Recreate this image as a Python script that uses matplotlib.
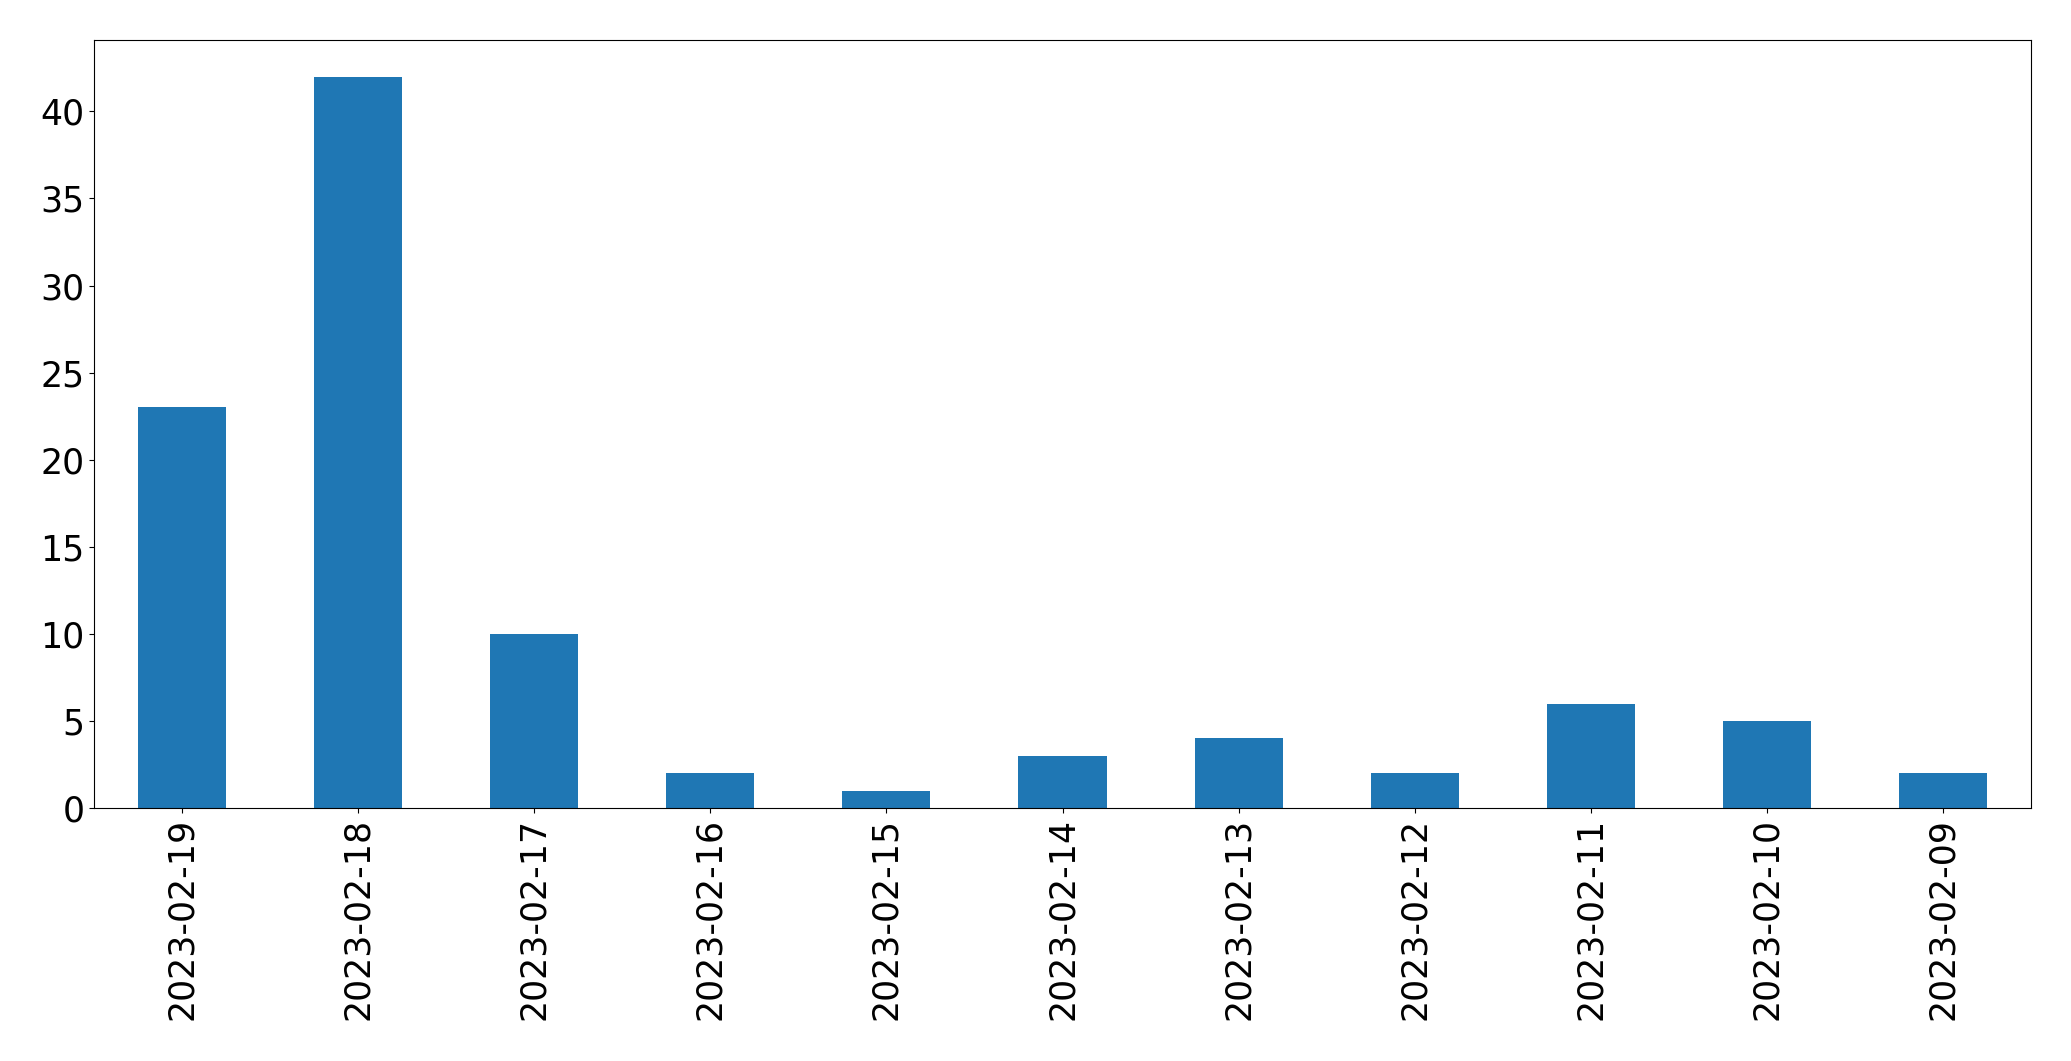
import matplotlib
matplotlib.use("Agg")
import matplotlib.pyplot as plt
import numpy as np

dates = ["2023-02-19", "2023-02-18", "2023-02-17", "2023-02-16", "2023-02-15",
         "2023-02-14", "2023-02-13", "2023-02-12", "2023-02-11", "2023-02-10",
         "2023-02-09"]
counts = [23, 42, 10, 2, 1, 3, 4, 2, 6, 5, 2]

fig = plt.figure(figsize=(20.71, 10.61), dpi=100)
ax = fig.add_axes([94/2071, 1 - 808/1061, (2031-94)/2071, (808-40)/1061])

x = np.arange(len(dates))
ax.bar(x, counts, width=0.5, color="#1f77b4")
ax.set_xlim(-0.5, len(dates) - 0.5)
ax.set_ylim(0, max(counts) * 1.05)
ax.set_xticks(x)
ax.set_xticklabels(dates, rotation=90)
ax.tick_params(labelsize=25)

fig.savefig("out.png", dpi=100)
